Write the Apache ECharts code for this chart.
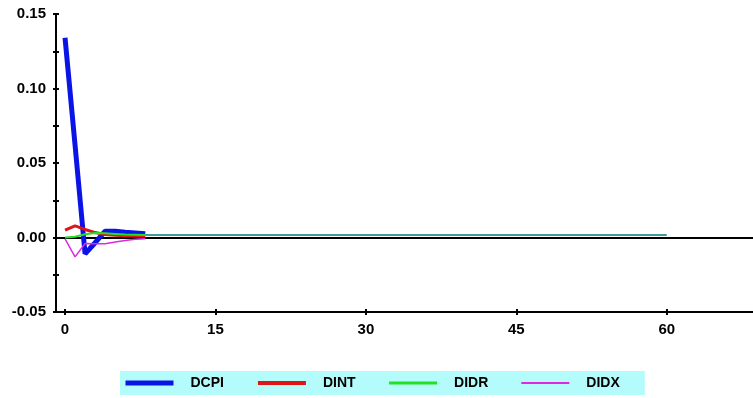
<!DOCTYPE html>
<html>
<head>
<meta charset="utf-8">
<script src="https://cdn.jsdelivr.net/npm/echarts@6/dist/echarts.min.js"></script>
<style>
  html, body { margin: 0; padding: 0; background: #fff; }
  #chart { width: 753px; height: 398px; }
</style>
</head>
<body>
<div id="chart"></div>
<script>
// Impulse responses over the horizon (periods 0..8), then the common steady level
const steps = [0, 1, 2, 3, 4, 5, 6, 7, 8];
const dcpi = [0.134, 0.062, -0.011, -0.0035, 0.0042, 0.0042, 0.0035, 0.003, 0.0025];
const dint = [0.005, 0.0078, 0.0054, 0.0033, 0.002, 0.0015, 0.0012, 0.001, 0.001];
const didr = [0.0, 0.0005, 0.0022, 0.003, 0.0028, 0.0024, 0.002, 0.0018, 0.0016];
const didx = [-0.001, -0.013, -0.004, -0.0042, -0.0042, -0.003, -0.002, -0.0012, -0.0008];
const tailSteps = [8, 60];
const tailValues = [0.0016, 0.0016];

const xTicks = [0, 15, 30, 45, 60];
const yLabels = [-0.05, 0.0, 0.05, 0.10, 0.15];
const yTicks = [-0.05, -0.025, 0.0, 0.025, 0.05, 0.075, 0.10, 0.125, 0.15];

const pairs = (xs, ys) => xs.map((x, i) => [x, ys[i]]);

const labelFont = { color: '#000', fontFamily: 'Liberation Sans', fontWeight: 'bold', fontSize: 15 };

const chart = echarts.init(document.getElementById('chart'), null, { renderer: 'canvas' });

const xBase = { type: 'value', min: -0.9, max: 68.6, splitLine: { show: false } };
const yBase = { type: 'value', min: -0.05, max: 0.15, splitLine: { show: false } };

chart.setOption({
  animation: false,
  backgroundColor: '#fff',
  grid: { left: 56, right: 0, top: 14, bottom: 86, containLabel: false },
  xAxis: [
    Object.assign({}, xBase, {
      position: 'bottom',
      axisLine: { onZero: false, lineStyle: { color: '#000', width: 2 } },
      axisTick: { length: 3, lineStyle: { color: '#000', width: 2 }, customValues: xTicks },
      axisLabel: Object.assign({ margin: 10, customValues: xTicks }, labelFont)
    }),
    Object.assign({}, xBase, {
      position: 'bottom',
      axisLine: { show: false, onZero: false },
      axisTick: { inside: true, length: 3, lineStyle: { color: '#000', width: 2 }, customValues: xTicks },
      axisLabel: { show: false }
    })
  ],
  yAxis: [
    Object.assign({}, yBase, {
      position: 'left',
      axisLine: { onZero: false, lineStyle: { color: '#000', width: 2 } },
      axisTick: { length: 3, lineStyle: { color: '#000', width: 2 }, customValues: yTicks },
      axisLabel: Object.assign({
        margin: 10,
        customValues: yLabels,
        formatter: v => (v < 0 ? '-0' : '0') + Math.abs(v).toFixed(2).slice(1)
      }, labelFont)
    }),
    Object.assign({}, yBase, {
      position: 'left',
      axisLine: { show: false, onZero: false },
      axisTick: { inside: true, length: 3, lineStyle: { color: '#000', width: 2 }, customValues: yTicks },
      axisLabel: { show: false }
    })
  ],
  legend: {
    data: [
      { name: 'DCPI', lineStyle: { width: 5 } },
      { name: 'DINT', lineStyle: { width: 4 } },
      { name: 'DIDR', lineStyle: { width: 3 } },
      { name: 'DIDX', lineStyle: { width: 2 } }
    ],
    left: 120,
    top: 371,
    orient: 'horizontal',
    backgroundColor: '#b4fcfc',
    padding: [5, 25, 5, 3],
    itemWidth: 48,
    itemHeight: 14,
    itemGap: 32,
    selectedMode: false,
    itemStyle: { opacity: 0 },
    textStyle: {
      color: '#000', fontFamily: 'Liberation Sans', fontWeight: 'bold', fontSize: 14,
      padding: [0, 0, 0, 12]
    }
  },
  series: [
    {
      name: 'DCPI', type: 'line', symbol: 'none', data: pairs(steps, dcpi),
      lineStyle: { color: '#0a14e6', width: 5 }, itemStyle: { color: '#0a14e6' },
      markLine: {
        silent: true, symbol: 'none', z: 1, label: { show: false },
        lineStyle: { color: '#000', width: 2, type: 'solid' },
        data: [{ yAxis: 0 }]
      }
    },
    {
      name: 'DINT', type: 'line', symbol: 'none', data: pairs(steps, dint),
      lineStyle: { color: '#e01414', width: 3 }, itemStyle: { color: '#e01414' }
    },
    {
      name: 'DIDR', type: 'line', symbol: 'none', data: pairs(steps, didr),
      lineStyle: { color: '#22e022', width: 2 }, itemStyle: { color: '#22e022' }
    },
    {
      name: 'DIDX', type: 'line', symbol: 'none', data: pairs(steps, didx),
      lineStyle: { color: '#e028e0', width: 1.5 }, itemStyle: { color: '#e028e0' }
    },
    {
      name: 'DIDR', type: 'line', symbol: 'none', data: pairs(tailSteps, tailValues),
      lineStyle: { color: '#3c9c9c', width: 2 }, itemStyle: { color: '#3c9c9c' }
    }
  ]
});
</script>
</body>
</html>
